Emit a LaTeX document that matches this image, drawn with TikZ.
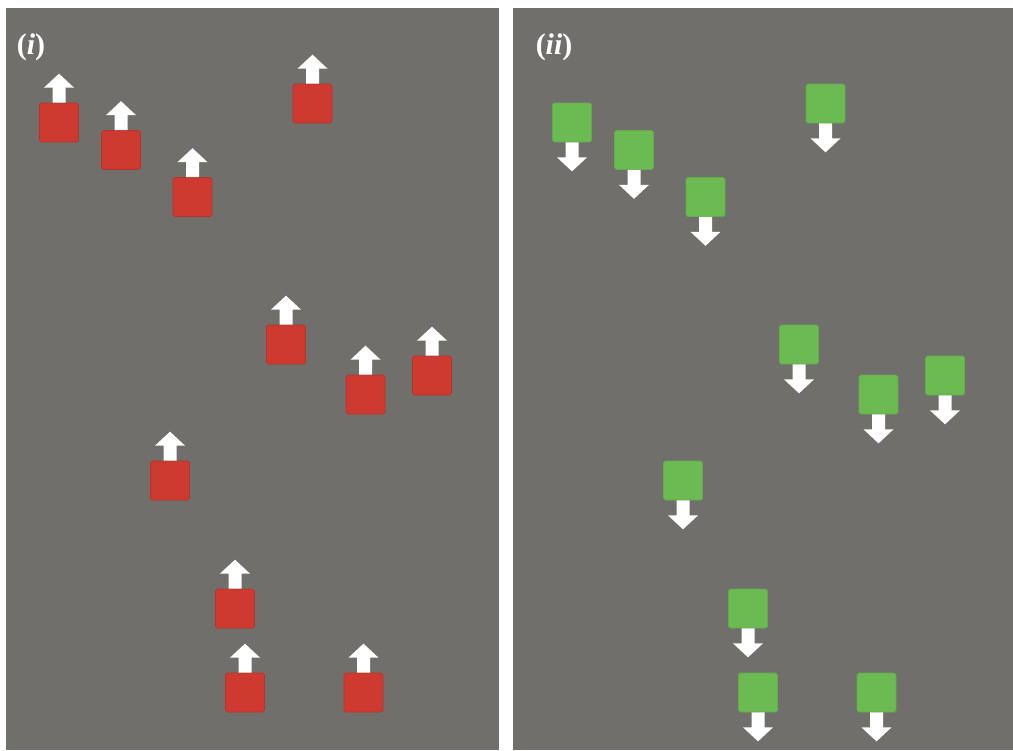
\documentclass[tikz,border=0pt]{standalone}
\usepackage{fontspec}
\setmainfont{Liberation Serif}
\usetikzlibrary{positioning}

\definecolor{panelgray}{RGB}{113,111,107}
\definecolor{cellred}{RGB}{207,58,48}
\definecolor{cellgreen}{RGB}{108,186,82}

\begin{document}
\begin{tikzpicture}[x=0.02cm, y=-0.02cm
% Panel and cell styles
		, panel/.style={fill=panelgray, draw=none}
		, redcell/.style={rectangle
							    , rounded corners=1pt
							    , fill=cellred
							    , draw=cellred!88!black, line width=0.4pt
							    , minimum size=0.78cm
							    , inner sep=0pt}
		, greencell/.style={rectangle
							    , rounded corners=1pt
							    , fill=cellgreen
							    , draw=cellgreen!92!black, line width=0.4pt
							    , minimum size=0.78cm
							    , inner sep=0pt}
		, tag/.style={text=white
							    , font=\fontsize{17}{19}\selectfont\bfseries
							    , inner sep=0pt}
% Arrows (drawn in pixel units)
		, uparr/.pic={\fill[white] (-6.5,0) -- (-6.5,-15) -- (-15,-15) -- (0,-29)
		              -- (15,-15) -- (6.5,-15) -- (6.5,0) -- cycle;}
		, downarr/.pic={\fill[white] (-6.5,0) -- (-6.5,15) -- (-15,15) -- (0,29)
		              -- (15,15) -- (6.5,15) -- (6.5,0) -- cycle;}
	]
	\useasboundingbox[fill=white] (0,0) rectangle (1013,750);
%% Panels
	\fill[panel] (6,8) rectangle (499,750);
	\fill[panel] (513,8) rectangle (1013,750);
	\node[tag] (ti) at (31,47) {(\textit{i})};
	\node[tag] (tii) at (554,47) {(\textit{ii})};
%% Cells and arrows
	\foreach \px/\py [count=\i] in {59/122.5, 121/150, 192.5/197, 312.5/103.5
	                               , 286/344.5, 365.5/394.5, 432/375.5, 170/480.5
	                               , 235/608.5, 245/692.5, 363.5/692.5}
	{
		\node[redcell] (r\i) at (\px,\py) {};
		\pic at (r\i.north) {uparr};
		\node[greencell] (g\i) at (\px+513,\py) {};
		\pic at (g\i.south) {downarr};
	}
\end{tikzpicture}
\end{document}
